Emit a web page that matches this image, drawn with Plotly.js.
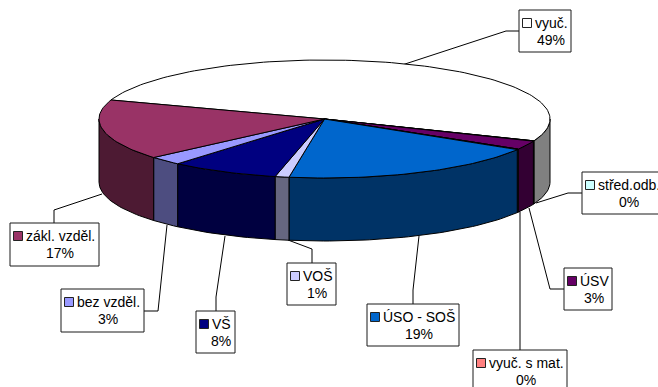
<!DOCTYPE html>
<html><head><meta charset="utf-8">
<script src="https://cdn.plot.ly/plotly-3.0.1.min.js"></script>
<style>html,body{margin:0;padding:0;background:#fff}#c{width:658px;height:387px}</style>
</head><body><div id="c"></div>
<script>
// Data: slice sizes as drawn, and the printed labels
const categories = ['vyuč.','střed.odb.','ÚSV','vyuč. s mat.','ÚSO - SOŠ','VOŠ','VŠ','bez vzděl.','zákl. vzděl.'];
const sliceValues = [51.0,0.1,2.4,0.15,18.9,1.0,7.8,2.4,16.6];
const percentLabels = ['49%','0%','3%','0%','19%','1%','8%','3%','17%'];
const sliceColors = ['#ffffff','#ccffff','#660066','#ff8080','#0066cc','#ccccff','#000080','#9999ff','#993366'];

// Presentation only: label boxes [left, top, right, bottom] and leader polylines, in page pixels
const boxes = [[519,10,571,52],[582,172,664,214],[564,268,612,310],[473,350,567,392],[367,304,459,346],[287,263,336,305],[196,311,235,353],[61,289,144,332],[10,223,99,266]];
const leaders = [
 [[402,65],[506,31],[519,31]],
 [[536,203],[568,193],[582,193]],
 [[529,208],[550,289],[564,289]],
 [[520,212],[520,337],[520,350]],
 [[419,236],[413,290],[413,304]],
 [[288,240],[312,249],[312,263]],
 [[225,236],[216,297],[216,311]],
 [[167,225],[158,311],[144,311]],
 [[102,194],[54,210],[54,223]]
];
const pie = {cx:324.5, cy:119, rx:225.5, ry:59, depth:63, startDeg:161.2};
const FONT = 'Liberation Sans, Arial, sans-serif';

const total = sliceValues.reduce((a,b)=>a+b,0);
function pt(deg, dz){ const r=deg*Math.PI/180; return [pie.cx+pie.rx*Math.cos(r), pie.cy-pie.ry*Math.sin(r)+(dz||0)]; }
function arc(a0,a1,dz){ const n=Math.max(2,Math.ceil(Math.abs(a1-a0)/1.5)+1), o=[]; for(let i=0;i<n;i++) o.push(pt(a0+(a1-a0)*i/(n-1),dz)); return o; }
function dark(hex){ const v=parseInt(hex.slice(1),16); const f=c=>Math.round(c*0.5); return `rgb(${f(v>>16&255)},${f(v>>8&255)},${f(v&255)})`; }
function poly(points, fill, name){ return {type:'scatter',mode:'lines',x:points.map(p=>p[0]),y:points.map(p=>p[1]),fill:'toself',fillcolor:fill,line:{color:'#000',width:1},name,hoverinfo:'name'}; }

const walls=[], tops=[];
let a=pie.startDeg;
categories.forEach((name,i)=>{
  const span=sliceValues[i]/total*360, b=a-span;
  // side wall: only the part of the rim on the near side (angles in -180..0, modulo turn)
  for (const [lo,hi] of [[-180,0],[-540,-360]]) {
    const s=Math.min(a,hi), e=Math.max(b,lo);
    if (s>e) { const top=arc(s,e,0), bot=arc(e,s,pie.depth); walls.push(poly([...top,...bot,top[0]],dark(sliceColors[i]),name)); }
  }
  const c=[pie.cx,pie.cy];
  tops.push(poly([c,...arc(a,b,0),c],sliceColors[i],name));
  a=b;
});

const leaderTraces=leaders.map((l,i)=>({type:'scatter',mode:'lines',x:l.map(p=>p[0]),y:l.map(p=>p[1]),line:{color:'#000',width:1},hoverinfo:'skip',name:categories[i]+' leader'}));

const shapes=[], annotations=[];
categories.forEach((name,i)=>{
  const [l,t,r,bt]=boxes[i];
  shapes.push({type:'rect',xref:'x',yref:'y',x0:l,x1:r,y0:t,y1:bt,fillcolor:'#fff',line:{color:'#1a1a1a',width:1}});
  shapes.push({type:'rect',xref:'x',yref:'y',x0:l+3.5,x1:l+12.5,y0:t+8.5,y1:t+17.5,fillcolor:sliceColors[i],line:{color:'#222',width:1}});
  annotations.push({xref:'x',yref:'y',x:l+14,y:t+12.5,text:name,showarrow:false,xanchor:'left',yanchor:'middle',font:{family:FONT,size:14,color:'#000'}});
  annotations.push({xref:'x',yref:'y',x:(l+15+r-4)/2,y:t+29.5,text:percentLabels[i],showarrow:false,xanchor:'center',yanchor:'middle',font:{family:FONT,size:14,color:'#000'}});
});

Plotly.newPlot('c',[...leaderTraces,...walls,...tops],{
  width:658,height:387,margin:{l:0,r:0,t:0,b:0},showlegend:false,
  paper_bgcolor:'#fff',plot_bgcolor:'#fff',
  xaxis:{range:[0,658],visible:false,fixedrange:true},
  yaxis:{range:[387,0],visible:false,fixedrange:true},
  shapes,annotations
},{displayModeBar:false,staticPlot:true});
</script></body></html>
